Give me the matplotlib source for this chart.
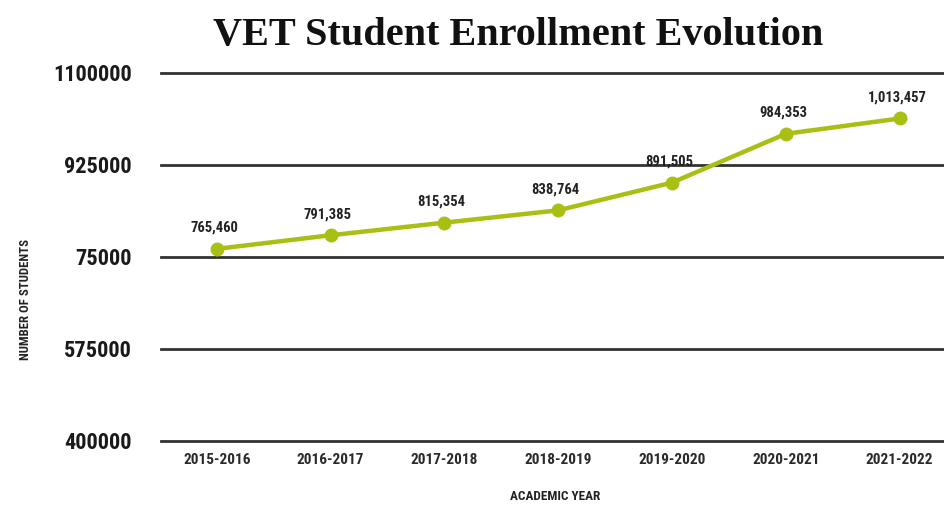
import matplotlib
matplotlib.use("Agg")
import matplotlib.pyplot as plt

# enrollment per academic year
years = ["2015-2016", "2016-2017", "2017-2018", "2018-2019",
         "2019-2020", "2020-2021", "2021-2022"]
students = [765460, 791385, 815354, 838764, 891505, 984353, 1013457]

y_ticks = [400000, 575000, 750000, 925000, 1100000]
y_tick_labels = ["400000", "575000", "75000", "925000", "1100000"]

narrow = ["Roboto Condensed", "DejaVu Sans"]
green = "#a9bf14"

fig = plt.figure(figsize=(9.44, 5.09), dpi=100)
ax = fig.add_axes([161 / 944, 1 - 441 / 509, 1 - 161 / 944, (441 - 73) / 509])

x = list(range(len(years)))
ax.plot(x, students, color=green, lw=3.2, marker="o", ms=9, zorder=3,
        solid_capstyle="round")

for xi, v in zip(x, students):
    ax.annotate(f"{v:,}", (xi, v), xytext=(-2, 10), textcoords="offset points",
                ha="center", va="bottom", fontsize=10.5, fontweight="bold",
                family=narrow, fontstretch="condensed", color="#222222")

ax.set_xlim(-0.49, 6.39)
ax.set_ylim(400000, 1100000)
ax.set_yticks(y_ticks)
ax.set_yticklabels(y_tick_labels, family=narrow, fontstretch="condensed",
                   fontweight="bold", fontsize=16, color="#1a1a1a")
ax.set_xticks(x)
ax.set_xticklabels(years, family=narrow, fontstretch="condensed",
                   fontweight="bold", fontsize=11, color="#2a2a2a")
ax.tick_params(axis="y", length=0, pad=21)
ax.tick_params(axis="x", length=0, pad=9)

for s in ax.spines.values():
    s.set_visible(False)
ax.grid(axis="y", color="#333333", lw=2)
for gl in ax.get_ygridlines():
    gl.set_clip_on(False)
ax.set_axisbelow(True)

fig.text(555 / 944, 1 - 497 / 509, "ACADEMIC YEAR", ha="center", va="center",
         family=narrow, fontstretch="condensed", fontweight="bold",
         fontsize=9.5, color="#222222")
fig.text(26 / 944, 1 - 300 / 509, "NUMBER OF STUDENTS", ha="center",
         va="center", rotation=90, family=narrow, fontstretch="condensed",
         fontweight="bold", fontsize=9.2, color="#222222")
fig.text(518 / 944, 1 - 35 / 509, "VET Student Enrollment Evolution",
         ha="center", va="center", family=["Liberation Serif", "DejaVu Serif"],
         fontweight="bold", fontsize=29, color="#111111")

fig.savefig("out.png", dpi=100)
